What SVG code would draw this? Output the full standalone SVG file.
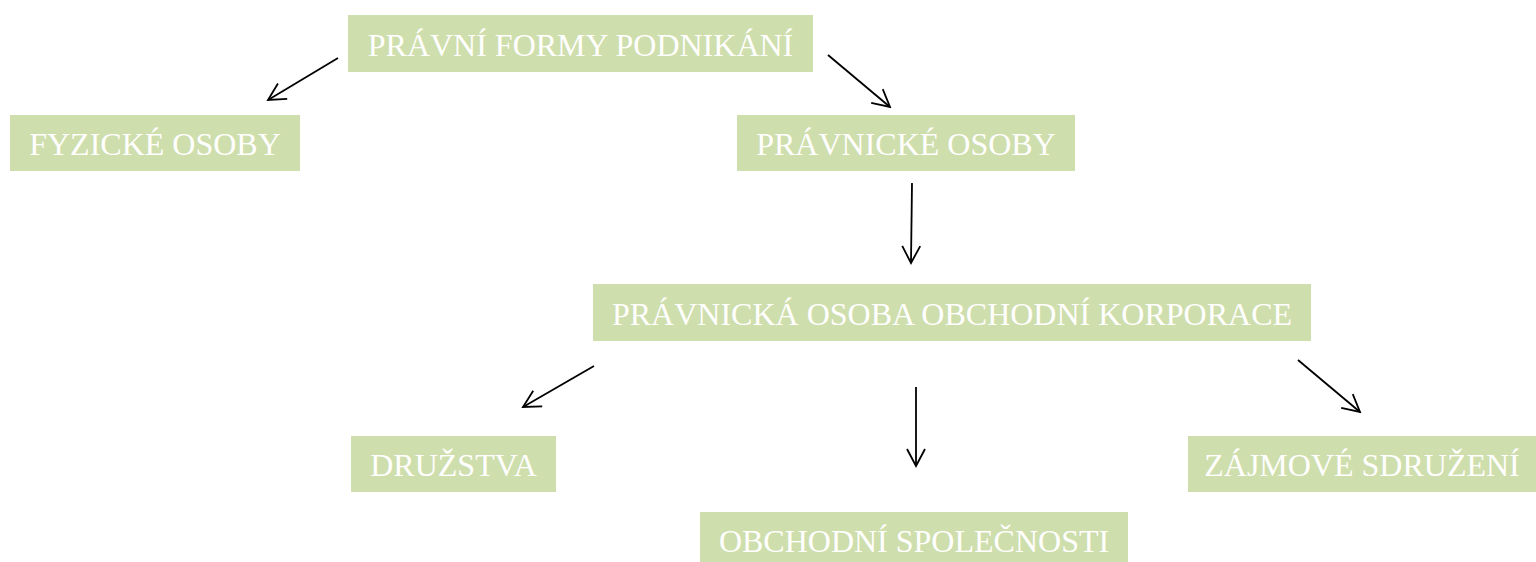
<svg xmlns="http://www.w3.org/2000/svg" width="1536" height="562" viewBox="0 0 1536 562">
<defs>
<style>
.box{fill:#cfdead}
.t{font-family:"Liberation Serif","Times New Roman",serif;font-size:32px;fill:#ffffff;text-anchor:middle}
.c{stroke:#000;stroke-width:1.8;fill:none}
</style>
<marker id="ah" viewBox="0 0 24 24" refX="22" refY="12" markerWidth="24" markerHeight="24" markerUnits="userSpaceOnUse" orient="auto">
<path d="M5,3 L22,12 L5,21" fill="none" stroke="#000" stroke-width="1.8"/>
</marker>
</defs>
<rect width="1536" height="562" fill="#fff"/>
<g id="n1"><rect class="box" x="348" y="15" width="465" height="57"/><text class="t" x="580.5" y="56">PRÁVNÍ FORMY PODNIKÁNÍ</text></g>
<g id="n2"><rect class="box" x="10" y="115" width="290" height="56"/><text class="t" x="155" y="155">FYZICKÉ OSOBY</text></g>
<g id="n3"><rect class="box" x="737" y="115" width="338" height="56"/><text class="t" x="906" y="155">PRÁVNICKÉ OSOBY</text></g>
<g id="n4"><rect class="box" x="593" y="284" width="718" height="57"/><text class="t" x="952" y="325">PRÁVNICKÁ OSOBA OBCHODNÍ KORPORACE</text></g>
<g id="n5"><rect class="box" x="351" y="436" width="205" height="56"/><text class="t" x="453.5" y="476">DRUŽSTVA</text></g>
<g id="n6"><rect class="box" x="700" y="512" width="428" height="56"/><text class="t" x="914" y="552">OBCHODNÍ SPOLEČNOSTI</text></g>
<g id="n7"><rect class="box" x="1188" y="436" width="348" height="56"/><text class="t" x="1362" y="476">ZÁJMOVÉ SDRUŽENÍ</text></g>
<g id="connectors">
<line class="c" x1="338" y1="58" x2="268" y2="100" marker-end="url(#ah)"/>
<line class="c" x1="828" y1="55" x2="890" y2="107" marker-end="url(#ah)"/>
<line class="c" x1="912" y1="183" x2="911" y2="263" marker-end="url(#ah)"/>
<line class="c" x1="594" y1="366" x2="523" y2="407" marker-end="url(#ah)"/>
<line class="c" x1="916" y1="387" x2="916" y2="466" marker-end="url(#ah)"/>
<line class="c" x1="1298" y1="360" x2="1360" y2="412" marker-end="url(#ah)"/>
</g>
</svg>
